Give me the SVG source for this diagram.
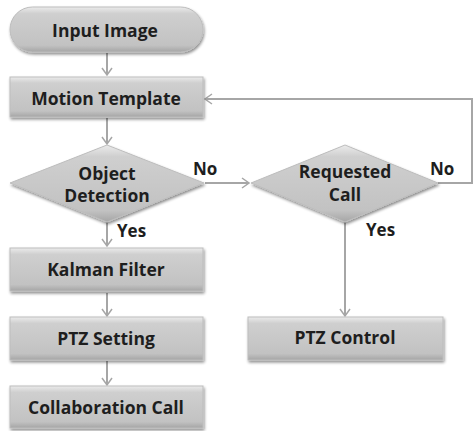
<svg xmlns="http://www.w3.org/2000/svg" width="475" height="431" viewBox="0 0 475 431">
<defs>
<linearGradient id="g" x1="0" y1="0" x2="0" y2="1">
<stop offset="0" stop-color="#ebebeb"/>
<stop offset="0.15" stop-color="#cfcfcf"/>
<stop offset="0.85" stop-color="#c2c2c2"/>
<stop offset="1" stop-color="#a5a5a5"/>
</linearGradient>
<filter id="sh" x="-10%" y="-10%" width="130%" height="140%">
<feGaussianBlur in="SourceAlpha" stdDeviation="1.5"/>
<feOffset dx="1" dy="2" result="b"/>
<feComponentTransfer><feFuncA type="linear" slope="0.45"/></feComponentTransfer>
<feMerge><feMergeNode/><feMergeNode in="SourceGraphic"/></feMerge>
</filter>
<marker id="ar" markerWidth="12" markerHeight="12" refX="10" refY="6" orient="auto" markerUnits="userSpaceOnUse">
<path d="M3,1 L10,6 L3,11" fill="none" stroke="#a6a6a6" stroke-width="1.5"/>
</marker>
</defs>
<style>
.n{fill:url(#g);stroke:#bdbdbd;stroke-width:1;filter:url(#sh)}
.t{font-family:"Open Sans","Noto Sans",sans-serif;font-weight:bold;font-size:17.5px;fill:#1e1e1e;text-anchor:middle}
.c{fill:none;stroke:#a6a6a6;stroke-width:2}
.l{font-family:"Open Sans","Noto Sans",sans-serif;font-weight:bold;font-size:17px;fill:#1e1e1e}
</style>
<rect width="475" height="431" fill="#ffffff"/>
<g id="connectors">
<line class="c" x1="107" y1="53" x2="107" y2="75" marker-end="url(#ar)"/>
<line class="c" x1="107" y1="118" x2="107" y2="144" marker-end="url(#ar)"/>
<line class="c" x1="205" y1="183" x2="249" y2="183" marker-end="url(#ar)"/>
<polyline class="c" points="438,183 472,183 472,99 205,99" marker-end="url(#ar)"/>
<line class="c" x1="107" y1="222" x2="107" y2="246" marker-end="url(#ar)"/>
<line class="c" x1="107" y1="293" x2="107" y2="316" marker-end="url(#ar)"/>
<line class="c" x1="107" y1="361" x2="107" y2="385" marker-end="url(#ar)"/>
<line class="c" x1="345" y1="222" x2="345" y2="316" marker-end="url(#ar)"/>
<text class="l" x="193" y="175">No</text>
<text class="l" x="430" y="175">No</text>
<text class="l" x="117" y="237">Yes</text>
<text class="l" x="366" y="236">Yes</text>
</g>
<g id="input-image">
<rect class="n" x="10" y="7" width="193" height="45" rx="22.5" ry="22.5"/>
<text class="t" x="105" y="37">Input Image</text>
</g>
<g id="motion-template">
<rect class="n" x="10" y="77" width="193" height="40"/>
<text class="t" x="106" y="105">Motion Template</text>
</g>
<g id="object-detection">
<polygon class="n" points="107,145 204,183 107,222 10,183"/>
<text class="t" x="107" y="180">Object</text>
<text class="t" x="107" y="202">Detection</text>
</g>
<g id="requested-call">
<polygon class="n" points="345,145 438,183 345,222 251,183"/>
<text class="t" x="345" y="178">Requested</text>
<text class="t" x="345" y="201">Call</text>
</g>
<g id="kalman-filter">
<rect class="n" x="10" y="248" width="193" height="43"/>
<text class="t" x="106" y="276">Kalman Filter</text>
</g>
<g id="ptz-setting">
<rect class="n" x="10" y="317" width="193" height="43"/>
<text class="t" x="106" y="345">PTZ Setting</text>
</g>
<g id="collaboration-call">
<rect class="n" x="10" y="386" width="193" height="42"/>
<text class="t" x="106" y="414">Collaboration Call</text>
</g>
<g id="ptz-control">
<rect class="n" x="248" y="317" width="195" height="43"/>
<text class="t" x="345" y="344">PTZ Control</text>
</g>
</svg>
